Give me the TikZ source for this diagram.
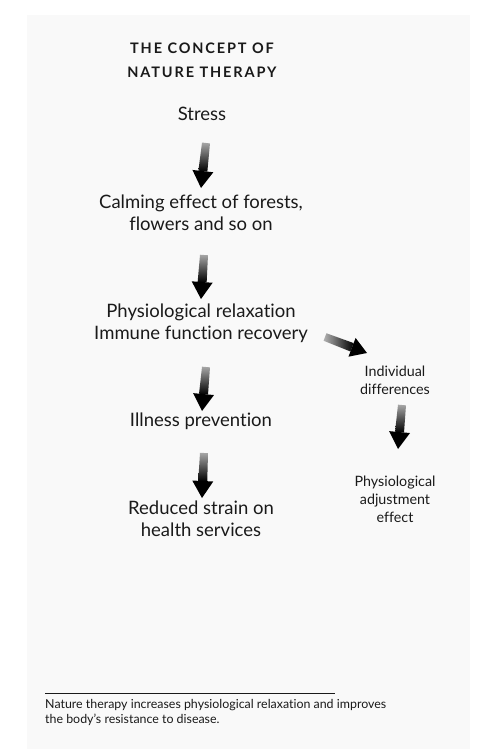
\documentclass[tikz,border=0pt]{standalone}
\usepackage{fontspec}
\setmainfont{Lato}[Ligatures={NoCommon,NoRare}]
\usetikzlibrary{calc}
\definecolor{panel}{HTML}{F9F9F9}
\definecolor{ink}{HTML}{1A1A1A}
\tikzset{
  main/.style={align=center, font=\fontsize{18.5}{22}\selectfont, text=ink, inner sep=0pt},
  side/.style={align=center, font=\fontsize{14.3}{18}\selectfont, text=ink, inner sep=0pt},
  ttl/.style={align=center, font=\fontsize{14.5}{24}\selectfont\bfseries\addfontfeatures{LetterSpace=13}, text=ink, inner sep=0pt},
  captext/.style={align=left, anchor=north west, font=\fontsize{12.4}{15}\selectfont, text=ink, inner sep=0pt},
}
\newcommand\vbrush[2]{%
  \coordinate (bH) at ($(#2)!17pt!(#1)$);
  \shade[top color=black!35, bottom color=black]
    ($(#1)!4pt!90:(#2)$) -- ($(#1)!4pt!-90:(#2)$) -- ($(bH)!4.5pt!90:(#1)$) -- ($(bH)!4.5pt!-90:(#1)$) -- cycle;
  \fill[black] ($(bH)!10.5pt!90:(#2)$) -- (#2) -- ($(bH)!10.5pt!-90:(#2)$) -- cycle;
}
\newcommand\hbrush[2]{%
  \coordinate (bH) at ($(#2)!16pt!(#1)$);
  \shade[left color=black!30, right color=black]
    ($(#1)!4pt!90:(#2)$) -- ($(#1)!4pt!-90:(#2)$) -- ($(bH)!4.5pt!90:(#1)$) -- ($(bH)!4.5pt!-90:(#1)$) -- cycle;
  \fill[black] ($(bH)!10pt!90:(#2)$) -- (#2) -- ($(bH)!10pt!-90:(#2)$) -- cycle;
}
\begin{document}
\begin{tikzpicture}[x=1pt,y=-1pt]
\useasboundingbox (0,0) rectangle (493,749);
\fill[white] (0,0) rectangle (493,749);
\fill[panel] (27,15) rectangle (470,749);

\node[ttl] (title) at (202,60) {THE CONCEPT OF\\NATURE THERAPY};
\node[main] (stress) at (202,114) {Stress};
\node[main] (calm) at (201,213) {Calming effect of forests,\\flowers and so on};
\node[main] (relax) at (201,323) {Physiological relaxation\\Immune function recovery};
\node[main] (ill) at (201,421) {Illness prevention};
\node[main] (reduce) at (201,519) {Reduced strain on\\health services};
\node[side] (indiv) at (395,380) {Individual\\differences};
\node[side] (adjust) at (395,499) {Physiological\\adjustment\\effect};

\coordinate (a1s) at ($(stress)+(4,29)$);   \coordinate (a1e) at ($(calm)+(0,-25)$);
\coordinate (a2s) at ($(calm)+(3,42)$);     \coordinate (a2e) at ($(relax)+(0,-24)$);
\coordinate (a3s) at ($(relax)+(5,44)$);    \coordinate (a3e) at ($(ill)+(1,-10)$);
\coordinate (a4s) at ($(ill)+(3,32)$);      \coordinate (a4e) at ($(reduce)+(1,-21)$);
\coordinate (a5s) at ($(indiv)+(7,25)$);    \coordinate (a5e) at ($(adjust)+(3,-50)$);
\coordinate (a6s) at ($(relax)+(124,14)$);  \coordinate (a6e) at ($(indiv)+(-28,-27)$);

\vbrush{a1s}{a1e}
\vbrush{a2s}{a2e}
\vbrush{a3s}{a3e}
\vbrush{a4s}{a4e}
\vbrush{a5s}{a5e}
\hbrush{a6s}{a6e}

\coordinate (rl) at (45,693);
\coordinate (rr) at (335,693);
\draw[line width=0.8pt, ink] (rl) -- (rr);
\node[captext] (caption) at (45,699) {Nature therapy increases physiological relaxation and improves\\the body’s resistance to disease.};
\end{tikzpicture}
\end{document}
